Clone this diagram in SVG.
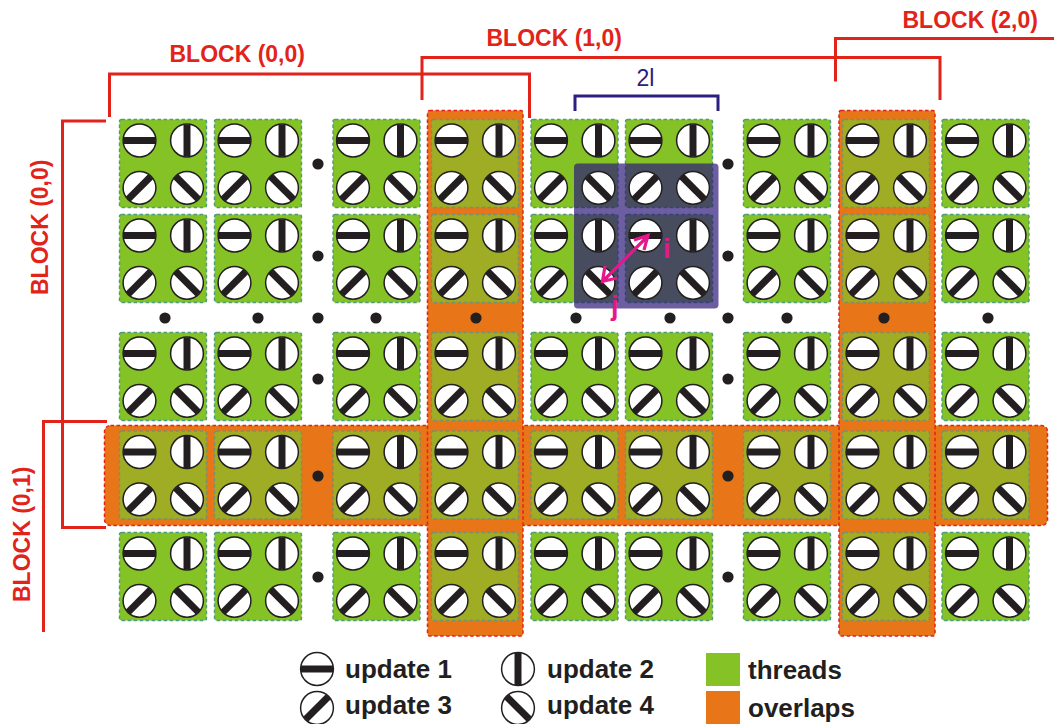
<svg xmlns="http://www.w3.org/2000/svg" width="1054" height="724" viewBox="0 0 1054 724">
<style>
.bg{fill:#fff}
.n{fill:#84c225;stroke:#4c9d7c;stroke-width:1.4;stroke-dasharray:3.5 2.5}
.o{fill:#9fad24;stroke:#77916a;stroke-width:1.4;stroke-dasharray:3.5 2.5}
.ov{fill:#e87517;stroke:#e2231a;stroke-width:1.5;stroke-dasharray:3.5 2.5}
.disc{fill:#fff;stroke:#231f20;stroke-width:1.5}
.slot{stroke:#231f20;stroke-width:7;fill:none}
.dot{fill:#231f20}
.red{fill:none;stroke:#e2231a;stroke-width:3}
.blue{fill:none;stroke:#2b2080;stroke-width:3}
.mag{fill:none;stroke:#e5178a;stroke-width:3.2}
.lr{font:bold 23px "Liberation Sans",Arial,sans-serif;fill:#e2231a}
.lg{font:bold 26px "Liberation Sans",Arial,sans-serif;fill:#231f20}
.lm{font:bold 27px "Liberation Sans",Arial,sans-serif;fill:#e5178a}
.lb{font:23px "Liberation Sans",Arial,sans-serif;fill:#2b2080}
</style>
<defs>
<rect id="r" width="87" height="88" rx="2"/>
<g id="s1"><circle class="disc" r="16.4"/><path class="slot" d="M-16 0H16"/></g>
<g id="s2"><circle class="disc" r="16.4"/><path class="slot" d="M0-16V16"/></g>
<g id="s3"><circle class="disc" r="16.4"/><path class="slot" d="M-11.3 11.3L11.3-11.3"/></g>
<g id="s4"><circle class="disc" r="16.4"/><path class="slot" d="M-11.3-11.3L11.3 11.3"/></g>
<g id="d"><use href="#s1" x="20" y="21"/><use href="#s2" x="67.500" y="21"/><use href="#s3" x="20" y="68.300"/><use href="#s4" x="67.500" y="68.300"/></g>
</defs>
<rect class="bg" width="1054" height="724"/>
<g id="overlaps">
<rect class="ov" x="104.500" y="425.500" width="943" height="100" rx="6"/>
<rect class="ov" x="427.500" y="110.500" width="95.500" height="525.500" rx="2"/>
<rect class="ov" x="839" y="110.500" width="96" height="525.500" rx="2"/>
</g>
<g id="tile-1-1"><use href="#r" class="n" x="119.500" y="119.500"/><use href="#d" x="119.500" y="119.500"/></g>
<g id="tile-1-2"><use href="#r" class="n" x="214.500" y="119.500"/><use href="#d" x="214.500" y="119.500"/></g>
<g id="tile-1-3"><use href="#r" class="n" x="333" y="119.500"/><use href="#d" x="333" y="119.500"/></g>
<g id="tile-1-4"><use href="#r" class="o" x="431.500" y="119.500"/><use href="#d" x="431.500" y="119.500"/></g>
<g id="tile-1-5"><use href="#r" class="n" x="531" y="119.500"/></g>
<g id="tile-1-6"><use href="#r" class="n" x="625.500" y="119.500"/></g>
<g id="tile-1-7"><use href="#r" class="n" x="743.500" y="119.500"/><use href="#d" x="743.500" y="119.500"/></g>
<g id="tile-1-8"><use href="#r" class="o" x="842.500" y="119.500"/><use href="#d" x="842.500" y="119.500"/></g>
<g id="tile-1-9"><use href="#r" class="n" x="942" y="119.500"/><use href="#d" x="942" y="119.500"/></g>
<g id="tile-2-1"><use href="#r" class="n" x="119.500" y="214.500"/><use href="#d" x="119.500" y="214.500"/></g>
<g id="tile-2-2"><use href="#r" class="n" x="214.500" y="214.500"/><use href="#d" x="214.500" y="214.500"/></g>
<g id="tile-2-3"><use href="#r" class="n" x="333" y="214.500"/><use href="#d" x="333" y="214.500"/></g>
<g id="tile-2-4"><use href="#r" class="o" x="431.500" y="214.500"/><use href="#d" x="431.500" y="214.500"/></g>
<g id="tile-2-5"><use href="#r" class="n" x="531" y="214.500"/></g>
<g id="tile-2-6"><use href="#r" class="n" x="625.500" y="214.500"/></g>
<g id="tile-2-7"><use href="#r" class="n" x="743.500" y="214.500"/><use href="#d" x="743.500" y="214.500"/></g>
<g id="tile-2-8"><use href="#r" class="o" x="842.500" y="214.500"/><use href="#d" x="842.500" y="214.500"/></g>
<g id="tile-2-9"><use href="#r" class="n" x="942" y="214.500"/><use href="#d" x="942" y="214.500"/></g>
<g id="tile-3-1"><use href="#r" class="n" x="119.500" y="332.500"/><use href="#d" x="119.500" y="332.500"/></g>
<g id="tile-3-2"><use href="#r" class="n" x="214.500" y="332.500"/><use href="#d" x="214.500" y="332.500"/></g>
<g id="tile-3-3"><use href="#r" class="n" x="333" y="332.500"/><use href="#d" x="333" y="332.500"/></g>
<g id="tile-3-4"><use href="#r" class="o" x="431.500" y="332.500"/><use href="#d" x="431.500" y="332.500"/></g>
<g id="tile-3-5"><use href="#r" class="n" x="531" y="332.500"/><use href="#d" x="531" y="332.500"/></g>
<g id="tile-3-6"><use href="#r" class="n" x="625.500" y="332.500"/><use href="#d" x="625.500" y="332.500"/></g>
<g id="tile-3-7"><use href="#r" class="n" x="743.500" y="332.500"/><use href="#d" x="743.500" y="332.500"/></g>
<g id="tile-3-8"><use href="#r" class="o" x="842.500" y="332.500"/><use href="#d" x="842.500" y="332.500"/></g>
<g id="tile-3-9"><use href="#r" class="n" x="942" y="332.500"/><use href="#d" x="942" y="332.500"/></g>
<g id="tile-4-1"><use href="#r" class="o" x="119.500" y="431"/><use href="#d" x="119.500" y="431"/></g>
<g id="tile-4-2"><use href="#r" class="o" x="214.500" y="431"/><use href="#d" x="214.500" y="431"/></g>
<g id="tile-4-3"><use href="#r" class="o" x="333" y="431"/><use href="#d" x="333" y="431"/></g>
<g id="tile-4-4"><use href="#r" class="o" x="431.500" y="431"/><use href="#d" x="431.500" y="431"/></g>
<g id="tile-4-5"><use href="#r" class="o" x="531" y="431"/><use href="#d" x="531" y="431"/></g>
<g id="tile-4-6"><use href="#r" class="o" x="625.500" y="431"/><use href="#d" x="625.500" y="431"/></g>
<g id="tile-4-7"><use href="#r" class="o" x="743.500" y="431"/><use href="#d" x="743.500" y="431"/></g>
<g id="tile-4-8"><use href="#r" class="o" x="842.500" y="431"/><use href="#d" x="842.500" y="431"/></g>
<g id="tile-4-9"><use href="#r" class="o" x="942" y="431"/><use href="#d" x="942" y="431"/></g>
<g id="tile-5-1"><use href="#r" class="n" x="119.500" y="532.500"/><use href="#d" x="119.500" y="532.500"/></g>
<g id="tile-5-2"><use href="#r" class="n" x="214.500" y="532.500"/><use href="#d" x="214.500" y="532.500"/></g>
<g id="tile-5-3"><use href="#r" class="n" x="333" y="532.500"/><use href="#d" x="333" y="532.500"/></g>
<g id="tile-5-4"><use href="#r" class="o" x="431.500" y="532.500"/><use href="#d" x="431.500" y="532.500"/></g>
<g id="tile-5-5"><use href="#r" class="n" x="531" y="532.500"/><use href="#d" x="531" y="532.500"/></g>
<g id="tile-5-6"><use href="#r" class="n" x="625.500" y="532.500"/><use href="#d" x="625.500" y="532.500"/></g>
<g id="tile-5-7"><use href="#r" class="n" x="743.500" y="532.500"/><use href="#d" x="743.500" y="532.500"/></g>
<g id="tile-5-8"><use href="#r" class="o" x="842.500" y="532.500"/><use href="#d" x="842.500" y="532.500"/></g>
<g id="tile-5-9"><use href="#r" class="n" x="942" y="532.500"/><use href="#d" x="942" y="532.500"/></g>
<g id="ellipsis" class="dot">
<circle cx="318" cy="164" r="5.600"/><circle cx="318" cy="256" r="5.600"/><circle cx="318" cy="379" r="5.600"/><circle cx="318" cy="476" r="5.600"/><circle cx="318" cy="577" r="5.600"/>
<circle cx="728" cy="164" r="5.600"/><circle cx="728" cy="256" r="5.600"/><circle cx="728" cy="379" r="5.600"/><circle cx="728" cy="476" r="5.600"/><circle cx="728" cy="577" r="5.600"/>
<circle cx="165" cy="318" r="5.600"/><circle cx="258" cy="318" r="5.600"/><circle cx="318" cy="318" r="5.600"/><circle cx="376" cy="318" r="5.600"/><circle cx="476" cy="318" r="5.600"/><circle cx="576" cy="318" r="5.600"/><circle cx="670" cy="318" r="5.600"/><circle cx="728" cy="318" r="5.600"/><circle cx="787" cy="318" r="5.600"/><circle cx="884" cy="318" r="5.600"/><circle cx="988" cy="318" r="5.600"/>
</g>
<rect id="stencil" x="574" y="163.500" width="144.500" height="145" rx="4" fill="#2e1a78" fill-opacity=".7"/>
<g id="stencil-dials">
<use href="#d" x="531" y="119.500"/><use href="#d" x="625.500" y="119.500"/><use href="#d" x="531" y="214.500"/><use href="#d" x="625.500" y="214.500"/>
</g>
<g id="connectors">
<path class="red" d="M109.500 117V74H529.500V118"/>
<path class="red" d="M422 100V57.500H940V100"/>
<path class="red" d="M835.500 81.500V38.500H1054"/>
<path class="red" d="M106 121H62.500V527.500H106"/>
<path class="red" d="M107 421.500H43.500V632"/>
<path class="blue" d="M575 111V96H718V111"/>
<path class="mag" d="M647 237L604 280M634 240L648 235.500L644 250M605 266L602.500 281.500L617 278"/>
</g>
<g id="labels">
<text class="lr" x="169.500" y="62">BLOCK (0,0)</text>
<text class="lr" x="486.500" y="46">BLOCK (1,0)</text>
<text class="lr" x="902.500" y="28">BLOCK (2,0)</text>
<text class="lr" transform="translate(48 295) rotate(-90)">BLOCK (0,0)</text>
<text class="lr" transform="translate(30 602) rotate(-90)">BLOCK (0,1)</text>
<text class="lb" x="636.500" y="86">2l</text>
<text class="lm" x="663" y="258">i</text>
<text class="lm" x="611" y="315">j</text>
</g>
<g id="legend">
<use href="#s1" x="317" y="669"/><text class="lg" x="345" y="678">update 1</text>
<use href="#s2" x="518" y="669"/><text class="lg" x="547" y="678">update 2</text>
<use href="#s3" x="317" y="708"/><text class="lg" x="345" y="714">update 3</text>
<use href="#s4" x="518" y="708"/><text class="lg" x="547" y="714">update 4</text>
<rect x="706" y="653" width="34" height="33" fill="#84c225"/><text class="lg" x="748" y="679">threads</text>
<rect x="706" y="691" width="34" height="33" fill="#e87517"/><text class="lg" x="748" y="717">overlaps</text>
</g>
</svg>
